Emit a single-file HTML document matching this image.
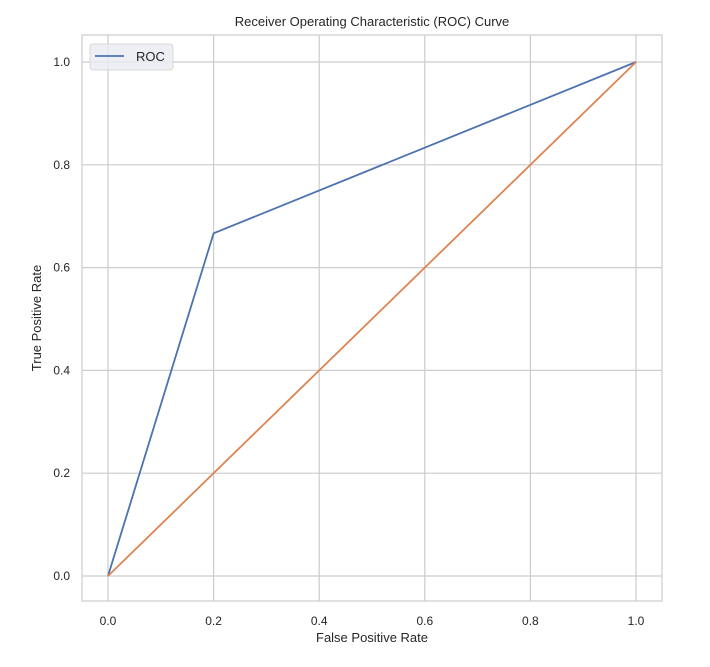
<!DOCTYPE html>
<html><head><meta charset="utf-8"><style>
body{margin:0;background:#fff;}
svg text{font-family:"Liberation Sans",sans-serif;fill:#262626;}
</style></head><body>
<svg id="chart" width="710" height="662" viewBox="0 0 710 662">
<text x="372" y="26" text-anchor="middle" font-size="13">Receiver Operating Characteristic (ROC) Curve</text>
<g id="grid"></g>
<rect x="82" y="35" width="580" height="566" fill="none" stroke="#cccccc" stroke-width="1.2"/>
<g id="series"></g>
<text x="372" y="642" text-anchor="middle" font-size="13">False Positive Rate</text>
<text transform="translate(41,318) rotate(-90)" text-anchor="middle" font-size="13">True Positive Rate</text>
<g>
<rect x="90" y="44" width="83" height="26" rx="3" fill="#eaeaf2" fill-opacity="0.8" stroke="#d8d8d8"/>
<line x1="95" y1="56" x2="124" y2="56" stroke="#4c72b0" stroke-width="1.8"/>
<text x="136" y="61" font-size="13">ROC</text>
</g>
</svg>
<script>
const xTicks=[0,0.2,0.4,0.6,0.8,1.0];
const yTicks=[0,0.2,0.4,0.6,0.8,1.0];
const rocFpr=[0,0.2,1];
const rocTpr=[0,0.6667,1];
const diagX=[0,1];
const diagY=[0,1];
const NS='http://www.w3.org/2000/svg';
function sx(v){return 108+v*528;}
function sy(v){return 576-v*514;}
const grid=document.getElementById('grid');
const series=document.getElementById('series');
function mk(tag,attrs,parent){const e=document.createElementNS(NS,tag);for(const k in attrs)e.setAttribute(k,attrs[k]);parent.appendChild(e);return e;}
xTicks.forEach(t=>{
 const l=mk('line',{x1:sx(t),x2:sx(t),y1:35,y2:601,stroke:'#cccccc','stroke-width':1.2},grid);
 
 
 const tx=mk('text',{x:sx(t),y:625,'text-anchor':'middle','font-size':12},grid);
 tx.textContent=t.toFixed(1);
 
 
});
yTicks.forEach(t=>{
 const l=mk('line',{x1:82,x2:662,y1:sy(t),y2:sy(t),stroke:'#cccccc','stroke-width':1.2},grid);
 
 
 const tx=mk('text',{x:70,y:sy(t)+4,'text-anchor':'end','font-size':12},grid);
 tx.textContent=t.toFixed(1);
 
 
});
const roc=mk('polyline',{points:rocFpr.map((v,i)=>sx(v)+','+sy(rocTpr[i])).join(' '),fill:'none',stroke:'#4c72b0','stroke-width':1.8},series);


const diag=mk('polyline',{points:diagX.map((v,i)=>sx(v)+','+sy(diagY[i])).join(' '),fill:'none',stroke:'#dd8452','stroke-width':1.8},series);


</script>
</body></html>
